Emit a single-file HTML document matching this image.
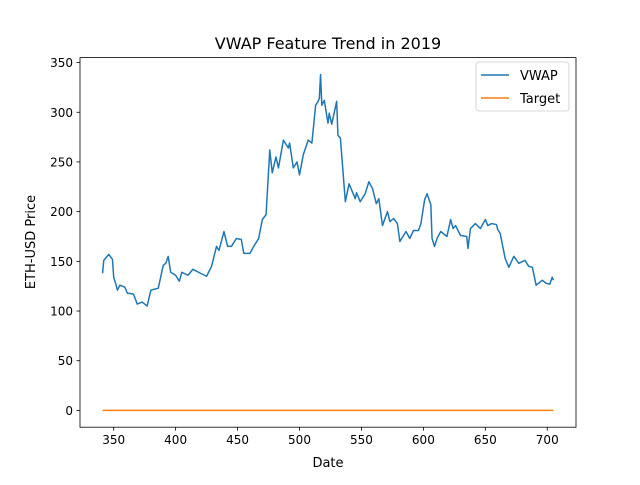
<!DOCTYPE html>
<html><head><meta charset="utf-8"><style>
body{margin:0;background:#fff;font-family:"Liberation Sans","DejaVu Sans",sans-serif}
svg text{font-family:"DejaVu Sans","Liberation Sans",sans-serif}
</style></head><body>
<svg id="chart" width="640" height="480" xmlns="http://www.w3.org/2000/svg">
<rect width="640" height="480" fill="#fff"/>
<text x="328" y="49" text-anchor="middle" font-size="16">VWAP Feature Trend in 2019</text>
<g id="xticks"></g>
<g id="yticks"></g>
<g id="series"></g>
<rect x="80" y="57.6" width="496" height="369.6" fill="none" stroke="#000" stroke-width="0.8"/>
<text x="328" y="467" text-anchor="middle" font-size="13">Date</text>
<text transform="translate(35,242) rotate(-90)" text-anchor="middle" font-size="13">ETH-USD Price</text>
<g>
<rect x="476" y="62" width="93" height="49" rx="3" fill="#fff" fill-opacity="0.8" stroke="#ccc" stroke-width="0.8"/>
<line x1="481" y1="75" x2="509" y2="75" stroke="#1f77b4" stroke-width="1.5"/>
<text x="520" y="80" font-size="13">VWAP</text>
<line x1="481" y1="98" x2="509" y2="98" stroke="#ff7f0e" stroke-width="1.5"/>
<text x="520" y="103" font-size="13">Target</text>
</g>
</svg>
<script>
const vwapDays=[341,342,346,349,350,352,353,355,359,361,366,369,373,377,380,386,390,392,394,396,400,403,405,410,414,420,425,429,433,435,439,442,445,449,453,455,460,463,467,470,473,476,478,481,483,487,491,492,495,498,500,503,507,510,513,515,516,517,518,520,523,524,526,530,531,533,537,540,545,546,549,553,556,559,562,564,567,571,573,576,579,581,586,589,592,596,598,601,603,606,607,609,611,614,619,622,624,626,630,635,636,638,642,646,650,652,655,659,660,662,666,669,673,677,682,685,688,691,694,696,699,702,704,705];
const vwapValues=[138,151,157,152,134,126,121,126,124,118,117,107,109,105,121,123,146,148,155,139,136,130,139,136,142,138,135,145,165,161,180,165,165,173,172,158,158,165,173,192,197,262,239,255,244,272,264,269,244,250,237,257,272,269,307,311,314,338,307,312,289,299,288,311,277,274,210,228,213,219,210,218,230,223,208,213,186,200,190,193,188,170,180,173,181,181,188,212,218,207,173,165,173,180,175,192,183,186,176,175,163,183,188,183,192,186,188,187,182,178,153,144,155,148,151,145,144,126,129,131,128,127,134,131];
const targetDays=[341,400,450,500,550,600,650,705];
const targetValues=[0,0,0,0,0,0,0,0];
const xTicks=[350,400,450,500,550,600,650,700];
const yTicks=[0,50,100,150,200,250,300,350];
const NS="http://www.w3.org/2000/svg";
const X0=80,X1=576,Y0=427.2,Y1=57.6,xmin=322.8,xmax=723.2,ymin=-16.9,ymax=355;
const xs=d=>X0+(d-xmin)/(xmax-xmin)*(X1-X0);
const ys=v=>Y0-(v-ymin)/(ymax-ymin)*(Y0-Y1);
function mk(tag,attrs,parent){const e=document.createElementNS(NS,tag);for(const k in attrs)e.setAttribute(k,attrs[k]);parent.appendChild(e);return e;}
const gx=document.getElementById('xticks'),gy=document.getElementById('yticks'),gs=document.getElementById('series');
xTicks.forEach(t=>{
 const l=mk('line',{x1:xs(t),x2:xs(t),y1:Y0,y2:Y0+3.5,stroke:'#000','stroke-width':0.8},gx);
 
 
 const tx=mk('text',{x:xs(t),y:Y0+17,'text-anchor':'middle','font-size':12},gx);
 tx.textContent=t;
 
 
});
yTicks.forEach(t=>{
 const l=mk('line',{x1:X0-3.5,x2:X0,y1:ys(t),y2:ys(t),stroke:'#000','stroke-width':0.8},gy);
 
 
 const tx=mk('text',{x:X0-7,y:ys(t)+4.5,'text-anchor':'end','font-size':12},gy);
 tx.textContent=t;
 
 
});
const p1=mk('polyline',{points:vwapDays.map((d,i)=>xs(d)+','+ys(vwapValues[i])).join(' '),fill:'none',stroke:'#1f77b4','stroke-width':1.5,'stroke-linejoin':'round'},gs);


const p2=mk('polyline',{points:targetDays.map((d,i)=>xs(d)+','+ys(targetValues[i])).join(' '),fill:'none',stroke:'#ff7f0e','stroke-width':1.5},gs);


</script>
</body></html>
